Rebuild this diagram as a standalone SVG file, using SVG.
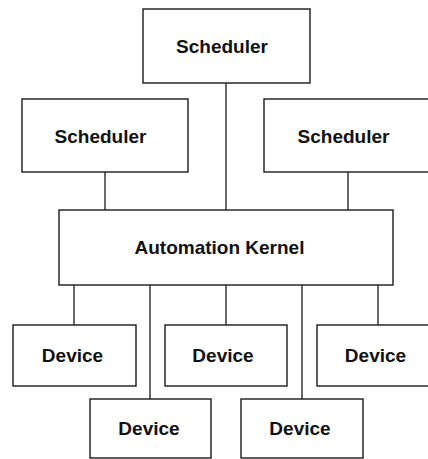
<svg xmlns="http://www.w3.org/2000/svg" width="428" height="459" viewBox="0 0 428 459">
<style>
.box{fill:#fff;stroke:#1a1a1a;stroke-width:1.4}
.lbl{font-family:"Liberation Sans",Arial,sans-serif;font-weight:bold;font-size:19px;fill:#111;text-anchor:middle}
.conn line{stroke:#1a1a1a;stroke-width:1.3}
</style>
<rect width="428" height="459" fill="#fff"/>
<g class="conn" id="connectors">
<line x1="226" y1="83" x2="226" y2="210"/>
<line x1="105" y1="172" x2="105" y2="210"/>
<line x1="348" y1="172" x2="348" y2="210"/>
<line x1="74" y1="285" x2="74" y2="325"/>
<line x1="150" y1="285" x2="150" y2="399"/>
<line x1="226" y1="285" x2="226" y2="325"/>
<line x1="302" y1="285" x2="302" y2="399"/>
<line x1="378" y1="285" x2="378" y2="325"/>
</g>
<g id="scheduler-top"><rect class="box" x="143" y="9" width="167" height="74"/><text class="lbl" x="222" y="53">Scheduler</text></g>
<g id="scheduler-left"><rect class="box" x="22" y="99" width="166" height="73"/><text class="lbl" x="100.5" y="143">Scheduler</text></g>
<g id="scheduler-right"><rect class="box" x="264" y="99" width="170" height="73"/><text class="lbl" x="343.5" y="143">Scheduler</text></g>
<g id="kernel"><rect class="box" x="59" y="210" width="334" height="75"/><text class="lbl" x="219.5" y="254">Automation Kernel</text></g>
<g id="device-1"><rect class="box" x="13" y="325" width="123" height="61"/><text class="lbl" x="72.5" y="362">Device</text></g>
<g id="device-2"><rect class="box" x="165" y="325" width="122" height="61"/><text class="lbl" x="223" y="362">Device</text></g>
<g id="device-3"><rect class="box" x="317" y="325" width="117" height="61"/><text class="lbl" x="375.5" y="362">Device</text></g>
<g id="device-4"><rect class="box" x="90" y="399" width="121" height="59"/><text class="lbl" x="149" y="435">Device</text></g>
<g id="device-5"><rect class="box" x="241" y="399" width="122" height="59"/><text class="lbl" x="300" y="435">Device</text></g>
</svg>
